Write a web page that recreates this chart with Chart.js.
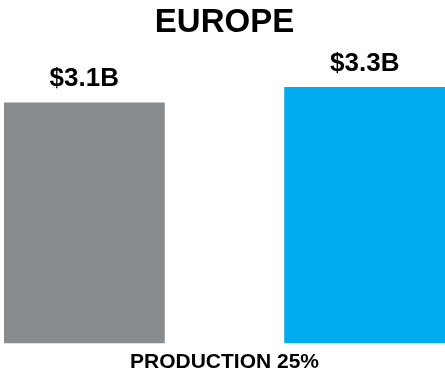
<!DOCTYPE html>
<html>
<head>
<meta charset="utf-8">
<script src="https://cdn.jsdelivr.net/npm/chart.js@4/dist/chart.umd.min.js"></script>
<style>
    html, body { margin: 0; padding: 0; background: #fff; }
    #wrap { width: 445px; height: 371px; }
</style>
</head>
<body>
<div id="wrap"><canvas id="europe-chart"></canvas></div>
<script>
// Chart data
const categories = ['PRODUCTION 25%'];
const previousValues = [3.1];
const currentValues = [3.3];
const barColors = ['#898c8f', '#00aeef'];

const fontFamily = "'Liberation Sans', Arial, Helvetica, sans-serif";

// Draws the "$x.xB" label above each bar
const valueLabels = {
    id: 'valueLabels',
    afterDatasetsDraw(chart) {
        const ctx = chart.ctx;
        ctx.save();
        ctx.font = `bold 26px ${fontFamily}`;
        ctx.fillStyle = '#000';
        ctx.textAlign = 'center';
        ctx.textBaseline = 'alphabetic';
        chart.data.datasets.forEach((ds, i) => {
            const meta = chart.getDatasetMeta(i);
            meta.data.forEach((bar, j) => {
                const v = ds.data[j];
                ctx.fillText('$' + v.toFixed(1) + 'B', bar.x, bar.y - 16);
            });
        });
        ctx.restore();
    }
};

const ctx = document.getElementById('europe-chart').getContext('2d');
new Chart(ctx, {
    type: 'bar',
    data: {
        labels: categories,
        datasets: [
            { label: 'Previous', data: previousValues, backgroundColor: barColors[0] },
            { label: 'Current', data: currentValues, backgroundColor: barColors[1] }
        ]
    },
    options: {
        responsive: true,
        maintainAspectRatio: false,
        animation: false,
        // wide groups so the two bars reach the canvas edges
        categoryPercentage: 1.272,
        barPercentage: 0.574,
        layout: { padding: { left: 4, right: 0, top: 0, bottom: -10.5 } },
        plugins: {
            legend: { display: false },
            tooltip: { enabled: false },
            title: {
                display: true,
                text: 'EUROPE',
                color: '#000',
                font: { family: fontFamily, size: 33, weight: 'bold', lineHeight: 1 },
                padding: { top: 6.5, bottom: 0 }
            }
        },
        scales: {
            x: {
                grid: { display: false, drawTicks: false },
                border: { display: false },
                ticks: {
                    color: '#000',
                    padding: 8.5,
                    font: { family: fontFamily, size: 21, weight: 'bold', lineHeight: 1 }
                }
            },
            y: {
                display: false,
                min: 0,
                max: 3.91
            }
        }
    },
    plugins: [valueLabels]
});
</script>
</body>
</html>
